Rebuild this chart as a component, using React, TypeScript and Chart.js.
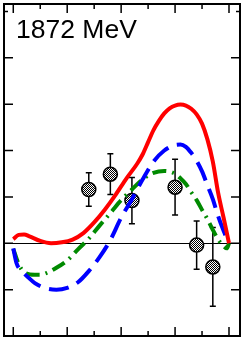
import React, { useEffect, useRef } from "react";
import { Chart, registerables } from "chart.js";

Chart.register(...registerables);

const titleText = "1872 MeV";

const redX = [-1, -0.95, -0.9, -0.85, -0.75, -0.65, -0.55, -0.45, -0.35, -0.25, -0.15, -0.05, 0.05, 0.15, 0.2, 0.25, 0.3, 0.35, 0.4, 0.45, 0.5, 0.55, 0.6, 0.65, 0.7, 0.75, 0.8, 0.85, 0.9, 0.95, 1.0];
const redY = [0.09, 0.18, 0.19, 0.15, 0.05, 0.0, 0.02, 0.08, 0.22, 0.45, 0.73, 1.05, 1.4, 1.72, 1.92, 2.18, 2.44, 2.64, 2.8, 2.91, 2.97, 2.99, 2.97, 2.9, 2.78, 2.58, 2.24, 1.76, 1.08, 0.55, 0.0];

const blueX = [-1, -0.97, -0.92, -0.85, -0.8, -0.7, -0.6, -0.5, -0.4, -0.3, -0.2, -0.1, 0.0, 0.1, 0.2, 0.3, 0.4, 0.5, 0.55, 0.6, 0.65, 0.7, 0.75, 0.8, 0.85, 0.9, 0.95, 1.0];
const blueY = [-0.11, -0.43, -0.6, -0.76, -0.86, -0.97, -1.0, -0.96, -0.84, -0.6, -0.3, 0.07, 0.55, 0.95, 1.38, 1.76, 2.0, 2.12, 2.13, 2.08, 1.95, 1.78, 1.55, 1.25, 0.95, 0.58, 0.27, 0.0];

const greenX = [-1, -0.95, -0.9, -0.8, -0.75, -0.7, -0.6, -0.5, -0.4, -0.3, -0.2, -0.1, 0.0, 0.1, 0.2, 0.3, 0.4, 0.5, 0.55, 0.6, 0.65, 0.7, 0.75, 0.8, 0.85, 0.9, 0.95, 0.98, 1.0];
const greenY = [-0.12, -0.45, -0.62, -0.68, -0.68, -0.65, -0.53, -0.37, -0.13, 0.1, 0.38, 0.65, 0.93, 1.16, 1.38, 1.52, 1.56, 1.5, 1.4, 1.28, 1.1, 0.93, 0.72, 0.52, 0.29, 0.08, -0.06, -0.11, 0.0];

const dataX = [-0.3, -0.1, 0.1, 0.5, 0.7, 0.85];
const dataY = [1.16, 1.49, 0.92, 1.21, -0.04, -0.51];
const dataErr = [0.36, 0.44, 0.5, 0.6, 0.52, 0.85];

const xMajorTicks = [-1, -0.5, 0, 0.5, 1];
const xMinorTicks = [-0.75, -0.25, 0.25, 0.75];
const yMajorTicks = [-1, 0, 1, 2, 3, 4];
const yMinorTicks = [5];

const toPts = (xs: number[], ys: number[]) => xs.map((x, i) => ({ x, y: ys[i] }));

export default function App() {
  const ref = useRef<HTMLCanvasElement | null>(null);

  useEffect(() => {
    const canvas = ref.current;
    if (!canvas) return;

    const pc = document.createElement("canvas");
    pc.width = 2;
    pc.height = 2;
    const pctx = pc.getContext("2d")!;
    pctx.fillStyle = "#ffffff";
    pctx.fillRect(0, 0, 2, 2);
    pctx.fillStyle = "#000000";
    pctx.fillRect(0, 0, 1, 1);
    pctx.fillRect(1, 1, 1, 1);
    const pattern = canvas.getContext("2d")!.createPattern(pc, "repeat");

    const decor = {
      id: "decor",
      beforeDatasetsDraw(chart: any) {
        const { ctx, chartArea: a, scales } = chart;
        const xs = scales.x;
        const ys = scales.y;
        ctx.save();
        ctx.strokeStyle = "#000";
        ctx.lineWidth = 1;
        const y0 = Math.round(ys.getPixelForValue(0)) + 0.5;
        ctx.beginPath();
        ctx.moveTo(a.left, y0);
        ctx.lineTo(a.right, y0);
        ctx.stroke();
        ctx.lineWidth = 1.5;
        dataX.forEach((xv, i) => {
          const px = xs.getPixelForValue(xv);
          const top = ys.getPixelForValue(dataY[i] + dataErr[i]);
          const bot = ys.getPixelForValue(dataY[i] - dataErr[i]);
          ctx.beginPath();
          ctx.moveTo(px, top);
          ctx.lineTo(px, bot);
          ctx.moveTo(px - 3, top);
          ctx.lineTo(px + 3, top);
          ctx.moveTo(px - 3, bot);
          ctx.lineTo(px + 3, bot);
          ctx.stroke();
        });
        ctx.restore();
      },
      afterDraw(chart: any) {
        const { ctx, chartArea: a, scales } = chart;
        const xs = scales.x;
        const ys = scales.y;
        ctx.save();
        ctx.strokeStyle = "#000";
        ctx.lineWidth = 2;
        ctx.strokeRect(a.left, a.top, a.right - a.left, a.bottom - a.top);
        ctx.lineWidth = 1.5;
        const xt = (v: number, len: number) => {
          const px = xs.getPixelForValue(v);
          ctx.beginPath();
          ctx.moveTo(px, a.bottom);
          ctx.lineTo(px, a.bottom - len);
          ctx.moveTo(px, a.top);
          ctx.lineTo(px, a.top + len);
          ctx.stroke();
        };
        const yt = (v: number, len: number) => {
          const py = ys.getPixelForValue(v);
          ctx.beginPath();
          ctx.moveTo(a.left, py);
          ctx.lineTo(a.left + len, py);
          ctx.moveTo(a.right, py);
          ctx.lineTo(a.right - len, py);
          ctx.stroke();
        };
        xMajorTicks.forEach((v) => xt(v, 9));
        xMinorTicks.forEach((v) => xt(v, 5));
        yMajorTicks.forEach((v) => yt(v, 9));
        yMinorTicks.forEach((v) => yt(v, 4));
        ctx.fillStyle = "#000";
        ctx.font = '26.5px "Liberation Sans", Arial, sans-serif';
        ctx.textBaseline = "alphabetic";
        ctx.textAlign = "left";
        ctx.fillText(titleText, 16, 38);
        ctx.restore();
      },
    };

    const chart = new Chart(canvas, {
      type: "scatter",
      data: {
        datasets: [
          {
            label: "data",
            data: toPts(dataX, dataY),
            showLine: false,
            pointRadius: 7,
            pointBackgroundColor: pattern as any,
            pointBorderColor: "#000",
            pointBorderWidth: 1.5,
            order: 10,
          },
          {
            label: "green",
            data: toPts(greenX, greenY),
            showLine: true,
            pointRadius: 0,
            borderColor: "#008a00",
            borderWidth: 4,
            borderDash: [14, 6, 2, 6],
            borderCapStyle: "butt",
            cubicInterpolationMode: "monotone",
            order: 3,
          },
          {
            label: "blue",
            data: toPts(blueX, blueY),
            showLine: true,
            pointRadius: 0,
            borderColor: "#0000ff",
            borderWidth: 4,
            borderDash: [20, 9],
            borderCapStyle: "butt",
            cubicInterpolationMode: "monotone",
            order: 2,
          },
          {
            label: "red",
            data: toPts(redX, redY),
            showLine: true,
            pointRadius: 0,
            borderColor: "#ff0000",
            borderWidth: 4,
            cubicInterpolationMode: "monotone",
            order: 1,
          },
        ],
      } as any,
      options: {
        animation: false,
        responsive: false,
        devicePixelRatio: 1,
        layout: { autoPadding: false, padding: { left: 4, top: 4, right: 3, bottom: 3 } },
        plugins: { legend: { display: false }, tooltip: { enabled: false } },
        scales: {
          x: { type: "linear", min: -1.086, max: 1.102, display: false },
          y: { type: "linear", min: -2, max: 5.16, display: false },
        },
      } as any,
      plugins: [decor],
    });

    return () => chart.destroy();
  }, []);

  return (
    <div style={{ position: "absolute", left: 0, top: 0, width: 243, height: 339, background: "#fff" }}>
      <canvas ref={ref} width={243} height={339} style={{ display: "block" }} />
    </div>
  );
}
